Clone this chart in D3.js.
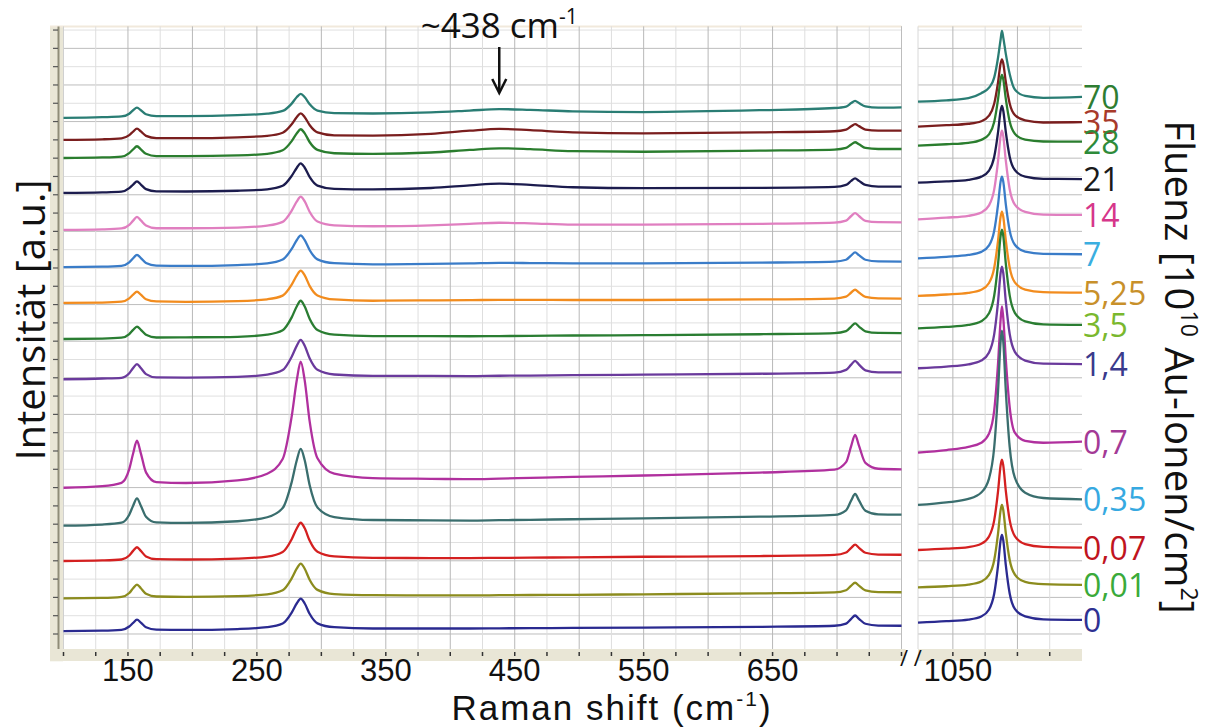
<!DOCTYPE html>
<html><head><meta charset="utf-8">
<script src="https://cdn.jsdelivr.net/npm/d3@7"></script>
<style>
body{margin:0;background:#fff}
svg{display:block}
text{font-family:'Open Sans','Noto Sans',sans-serif;fill:#111}
text.ax{font-family:'Liberation Sans',Arial,sans-serif}
</style>
</head><body>
<svg id="c" width="1209" height="728"></svg>
<script>
// ---- data ----
const fluence = ["70","35","28","21","14","7","5,25","3,5","1,4","0,7","0,35","0,07","0,01","0"];
const lineColors = ["#2a7d74","#7a1e1e","#2a7d2e","#1c1c4e","#e07fc0","#3a7cc8","#f28c1e","#2a7d32","#6a3a9c","#b0309e","#3a6e6e","#d42020","#8c8c1e","#2a2a90"];
const labelColors = ["#2e7d32","#a83a2a","#2e8b3a","#1a1a1a","#d6368a","#3aaee0","#c8902a","#7ab82e","#3a3a8c","#a33a96","#36a9e1","#c0141e","#3aaa3a","#2e3192"];
const leftX = [100,130,145,151,154,157,160,164,172,195,235,258,270,277,281,284,287,291,297,310,340,385,415,438,462,495,550,640,698,707,711,714,717,722,732,750];
const rightX = [1023,1045,1062,1072,1078,1082,1085,1087,1088,1089,1091,1094,1098,1106,1120,1150];
const leftY = [
 [29.20,29.24,29.28,29.43,29.62,29.76,29.62,29.40,29.30,29.30,29.35,29.43,29.58,29.98,30.34,30.51,30.34,29.94,29.60,29.46,29.44,29.50,29.60,29.68,29.64,29.56,29.52,29.62,29.74,29.82,30.01,30.13,30.01,29.83,29.76,29.77],
 [28.00,28.03,28.08,28.26,28.45,28.61,28.46,28.22,28.10,28.09,28.14,28.22,28.39,28.85,29.25,29.45,29.25,28.80,28.41,28.25,28.23,28.33,28.50,28.60,28.53,28.41,28.36,28.41,28.47,28.56,28.74,28.86,28.75,28.56,28.50,28.50],
 [27.01,27.04,27.09,27.28,27.48,27.65,27.48,27.24,27.11,27.11,27.15,27.24,27.43,27.93,28.36,28.58,28.37,27.87,27.45,27.27,27.24,27.31,27.45,27.54,27.49,27.38,27.35,27.41,27.47,27.56,27.75,27.87,27.76,27.56,27.50,27.50],
 [25.10,25.13,25.17,25.36,25.56,25.73,25.56,25.31,25.19,25.18,25.22,25.30,25.49,26.03,26.48,26.72,26.49,25.96,25.50,25.32,25.29,25.37,25.51,25.61,25.54,25.41,25.36,25.38,25.43,25.54,25.76,25.90,25.76,25.54,25.45,25.45],
 [23.08,23.11,23.16,23.36,23.59,23.79,23.60,23.32,23.17,23.17,23.21,23.32,23.52,24.13,24.64,24.90,24.65,24.06,23.54,23.33,23.28,23.33,23.41,23.47,23.44,23.37,23.37,23.41,23.48,23.59,23.84,24.00,23.84,23.58,23.50,23.49],
 [21.05,21.07,21.12,21.31,21.53,21.72,21.54,21.27,21.13,21.11,21.16,21.25,21.46,22.04,22.53,22.78,22.53,21.97,21.47,21.26,21.20,21.22,21.25,21.28,21.27,21.25,21.25,21.29,21.35,21.45,21.69,21.85,21.70,21.45,21.36,21.35],
 [19.09,19.11,19.16,19.34,19.54,19.71,19.54,19.29,19.17,19.15,19.19,19.29,19.49,20.09,20.60,20.86,20.61,20.01,19.50,19.28,19.21,19.23,19.24,19.26,19.26,19.25,19.25,19.28,19.33,19.43,19.66,19.81,19.66,19.42,19.34,19.33],
 [17.12,17.14,17.19,17.39,17.62,17.80,17.62,17.35,17.20,17.21,17.24,17.36,17.60,18.30,18.91,19.21,18.91,18.21,17.61,17.36,17.28,17.28,17.27,17.28,17.29,17.31,17.33,17.38,17.44,17.55,17.80,17.97,17.80,17.54,17.45,17.44],
 [14.92,14.96,15.00,15.25,15.53,15.75,15.53,15.20,15.02,15.01,15.05,15.17,15.42,16.15,16.76,17.07,16.76,16.06,15.44,15.18,15.10,15.10,15.09,15.11,15.12,15.14,15.17,15.22,15.28,15.43,15.72,15.92,15.72,15.41,15.30,15.29],
 [8.99,9.08,9.26,10.01,10.86,11.56,10.87,9.83,9.30,9.25,9.39,9.76,10.56,12.89,14.89,15.88,14.90,12.59,10.60,9.76,9.52,9.48,9.46,9.49,9.53,9.58,9.66,9.82,9.98,10.39,11.28,11.88,11.29,10.35,10.03,10.00],
 [6.92,6.98,7.08,7.52,8.01,8.41,8.01,7.41,7.10,7.07,7.16,7.38,7.88,9.30,10.51,11.11,10.52,9.11,7.91,7.39,7.23,7.21,7.20,7.22,7.24,7.27,7.32,7.41,7.51,7.76,8.30,8.65,8.30,7.74,7.54,7.52],
 [4.99,5.02,5.07,5.29,5.54,5.74,5.54,5.24,5.09,5.07,5.12,5.23,5.48,6.18,6.78,7.08,6.79,6.09,5.49,5.24,5.16,5.15,5.15,5.16,5.17,5.19,5.22,5.26,5.32,5.45,5.71,5.88,5.71,5.44,5.34,5.33],
 [2.95,2.97,3.03,3.24,3.50,3.70,3.50,3.20,3.05,3.03,3.07,3.17,3.39,4.04,4.58,4.85,4.58,3.95,3.41,3.18,3.12,3.11,3.11,3.12,3.13,3.14,3.17,3.22,3.27,3.39,3.64,3.80,3.64,3.38,3.29,3.28],
 [1.16,1.18,1.23,1.41,1.61,1.78,1.62,1.37,1.24,1.22,1.27,1.37,1.57,2.17,2.68,2.93,2.68,2.09,1.58,1.37,1.30,1.30,1.30,1.31,1.32,1.33,1.35,1.39,1.45,1.57,1.83,2.01,1.83,1.56,1.46,1.45]
];
const rightY = [
 [30.09,30.16,30.28,30.55,30.85,31.40,32.50,33.50,33.95,33.60,32.70,31.60,30.75,30.40,30.30,30.35],
 [28.72,28.80,28.88,29.02,29.32,29.97,31.15,32.19,32.40,32.19,31.16,29.99,29.36,29.06,28.95,28.97],
 [27.68,27.76,27.84,28.00,28.30,28.98,30.23,31.32,31.55,31.32,30.24,29.00,28.34,28.01,27.91,27.90],
 [25.66,25.73,25.82,25.99,26.32,27.06,28.42,29.60,29.85,29.60,28.43,27.08,26.35,25.99,25.87,25.86],
 [23.66,23.75,23.85,24.03,24.42,25.28,26.85,28.22,28.50,28.22,26.86,25.30,24.46,24.06,23.91,23.90],
 [21.53,21.61,21.71,21.88,22.23,23.02,24.47,25.73,25.99,25.73,24.48,23.04,22.27,21.89,21.77,21.75],
 [19.47,19.55,19.64,19.81,20.18,21.00,22.50,23.81,24.08,23.81,22.51,21.02,20.21,19.82,19.68,19.65],
 [17.70,17.78,17.89,18.09,18.52,19.48,21.23,22.77,23.09,22.77,21.24,19.50,18.55,18.08,17.92,17.89],
 [15.52,15.61,15.73,15.94,16.38,17.37,19.16,20.74,21.07,20.74,19.17,17.39,16.42,15.94,15.77,15.75],
 [10.91,11.05,11.22,11.45,11.95,13.20,15.80,18.20,18.90,18.30,16.00,13.40,12.00,11.55,11.45,11.51],
 [8.05,8.19,8.38,8.73,9.49,11.19,14.28,17.01,17.57,17.01,14.30,11.22,9.54,8.72,8.43,8.36],
 [5.59,5.66,5.75,5.93,6.33,7.21,8.81,10.23,10.52,10.23,8.82,7.22,6.35,5.91,5.76,5.72],
 [3.55,3.61,3.70,3.87,4.23,5.03,6.50,7.78,8.06,7.79,6.51,5.04,4.25,3.85,3.72,3.68],
 [1.62,1.70,1.79,1.96,2.34,3.20,4.75,6.13,6.41,6.13,4.76,3.21,2.37,1.96,1.80,1.77]
];
const leftTickLabels = [150,250,350,450,550,650];
const rightTickLabels = [1050];
const leftDomain = [100,750];
const rightDomain = [1023,1150];
const yDomain = [0,34.2];
const annotationShift = 438;

// ---- drawing ----
const svg = d3.select("#c");
const xL = d3.scaleLinear().domain(leftDomain).range([63.5,901.5]);
const xR = d3.scaleLinear().domain(rightDomain).range([918,1082]);
const y = d3.scaleLinear().domain(yDomain).range([652.3,26.4]);
const yTop = y(yDomain[1]), yBot = y(0);

// axis bands
svg.append("rect").attr("x",50).attr("y",yTop).attr("width",13).attr("height",yBot-yTop+9).attr("fill","#e9e6d6");
svg.append("rect").attr("x",50).attr("y",649).attr("width",xL(750)-50+4).attr("height",12).attr("fill","#e9e6d6");
svg.append("rect").attr("x",xR(rightDomain[0])).attr("y",649).attr("width",xR(rightDomain[1])-xR(rightDomain[0])).attr("height",12).attr("fill","#e9e6d6");
svg.append("line").attr("x1",50).attr("x2",xL(750)).attr("y1",yTop).attr("y2",yTop).attr("stroke","#f1e9dc").attr("stroke-width",2);
svg.append("line").attr("x1",xR(rightDomain[0])).attr("x2",xR(rightDomain[1])).attr("y1",yTop).attr("y2",yTop).attr("stroke","#f1e9dc").attr("stroke-width",2);

function grid(xs, ticks){
  const g = svg.append("g");
  const yt = d3.range(1,35);
  g.selectAll("line.h").data(yt).join("line")
    .attr("x1",xs.range()[0]).attr("x2",xs.range()[1])
    .attr("y1",d=>y(d)).attr("y2",d=>y(d))
    .attr("stroke",d=>d%2===1?"#bdbdbd":"#e0e0e0").attr("stroke-width",1);
  g.selectAll("line.v").data(ticks).join("line")
    .attr("x1",d=>xs(d)).attr("x2",d=>xs(d))
    .attr("y1",yTop).attr("y2",649)
    .attr("stroke",d=>d%50===0?"#b8b8b8":"#dedede").attr("stroke-width",1);
  g.selectAll("line.t").data(ticks).join("line")
    .attr("x1",d=>xs(d)).attr("x2",d=>xs(d))
    .attr("y1",652).attr("y2",656)
    .attr("stroke","#333").attr("stroke-width",1.5);
}
grid(xL, d3.range(125,751,25));
grid(xR, d3.range(1050,1150,25));
svg.append("line").attr("x1",63.5).attr("x2",63.5).attr("y1",yTop).attr("y2",649).attr("stroke","#d0d0d0");
svg.append("line").attr("x1",xL(750)).attr("x2",xL(750)).attr("y1",yTop).attr("y2",649).attr("stroke","#bdbdbd");
svg.append("line").attr("x1",xR(rightDomain[0])).attr("x2",xR(rightDomain[0])).attr("y1",yTop).attr("y2",649).attr("stroke","#d8d8d8");
svg.append("line").attr("x1",63.5).attr("x2",63.5).attr("y1",652).attr("y2",656).attr("stroke","#333").attr("stroke-width",1.5);

// left axis line and ticks
svg.append("line").attr("x1",58.5).attr("x2",58.5).attr("y1",yTop).attr("y2",649).attr("stroke","#8f8c78").attr("stroke-width",2);
svg.selectAll("line.ly").data(d3.range(1,35)).join("line")
  .attr("x1",53).attr("x2",58).attr("y1",d=>y(d)).attr("y2",d=>y(d))
  .attr("stroke","#555").attr("stroke-width",1.2);

// spectra
const lineL = d3.line().x((d,i)=>xL(leftX[i])).y(d=>y(d)).curve(d3.curveMonotoneX);
const lineR = d3.line().x((d,i)=>xR(rightX[i])).y(d=>y(d)).curve(d3.curveMonotoneX);
leftY.forEach((s,k)=>{
  svg.append("path").attr("d",lineL(s)).attr("fill","none").attr("stroke",lineColors[k]).attr("stroke-width",2.3).attr("stroke-linejoin","round");
});
rightY.forEach((s,k)=>{
  svg.append("path").attr("d",lineR(s)).attr("fill","none").attr("stroke",lineColors[k]).attr("stroke-width",2.3).attr("stroke-linejoin","round");
});

// fluence labels
rightY.forEach((s,k)=>{
  svg.append("text").attr("x",xR(rightDomain[1])+1).attr("y",y(s[s.length-1])+12)
    .attr("font-size",32).style("fill",labelColors[k]).text(fluence[k]);
});

// x tick labels
svg.selectAll("text.xl").data(leftTickLabels).join("text").attr("class","ax")
  .attr("x",d=>xL(d)).attr("y",681).attr("text-anchor","middle").attr("font-size",31).text(d=>d);
svg.selectAll("text.xr").data(rightTickLabels).join("text").attr("class","ax")
  .attr("x",d=>xR(d)+5).attr("y",681).attr("text-anchor","middle").attr("font-size",31).text(d=>d);
svg.append("text").attr("x",900).attr("y",666).attr("font-size",22).text("/ /");

// axis titles
const xt = svg.append("text").attr("class","ax").attr("x",612).attr("y",720).attr("text-anchor","middle").attr("font-size",35).attr("letter-spacing",2);
xt.append("tspan").text("Raman shift (cm");
xt.append("tspan").attr("font-size",21).attr("dy",-14).text("-1");
xt.append("tspan").attr("dy",14).text(")");

const ytl = svg.append("text").attr("transform","translate(45,320) rotate(-90)").attr("text-anchor","middle").attr("font-size",40);
ytl.text("Intensität [a.u.]");

const ft = svg.append("text").attr("transform","translate(1165,367) rotate(90)").attr("text-anchor","middle").attr("font-size",40);
ft.append("tspan").text("Fluenz [10");
ft.append("tspan").attr("font-size",23).attr("dy",-16).text("10");
ft.append("tspan").attr("dy",16).text(" Au-Ionen/cm");
ft.append("tspan").attr("font-size",23).attr("dy",-16).text("2");
ft.append("tspan").attr("dy",16).text("]");

// annotation
const ax = xL(annotationShift);
const at = svg.append("text").attr("x",ax).attr("y",38).attr("text-anchor","middle").attr("font-size",35);
at.append("tspan").text("~" + annotationShift + " cm");
at.append("tspan").attr("font-size",21).attr("dy",-14).text("-1");
svg.append("line").attr("x1",ax).attr("x2",ax).attr("y1",47).attr("y2",92).attr("stroke","#111").attr("stroke-width",2.5);
svg.append("path").attr("d",`M${ax-7},79 L${ax},93 L${ax+7},79`).attr("fill","none").attr("stroke","#111").attr("stroke-width",2.5);
</script>
</body></html>
